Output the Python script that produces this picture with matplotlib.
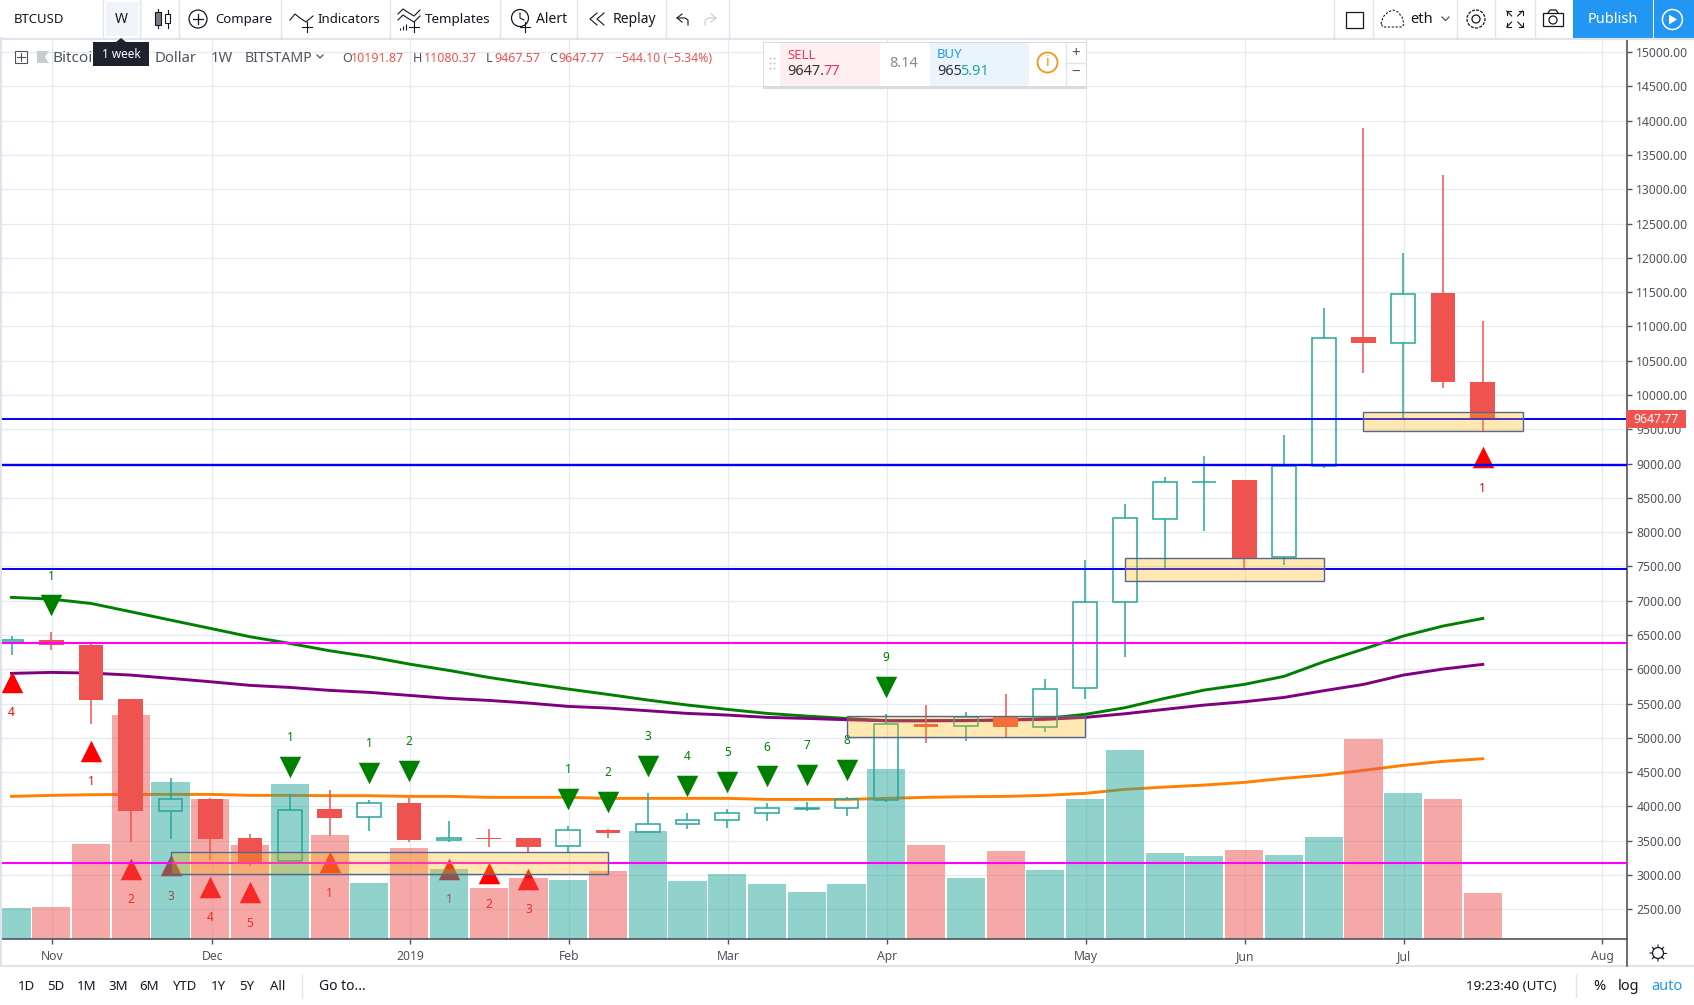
import numpy as np
import matplotlib.pyplot as plt

plt.rcParams['font.family'] = 'Noto Sans'

# open, high, low, close per week
o = [6405, 6427, 6354, 5566, 3938, 4108, 3540, 3200, 3963, 3841, 4050, 3511, 3540, 3540, 3418, 3656, 3622, 3739, 3797, 3899,
     3968, 3972, 4089, 5202, 5168, 5299, 5153, 5722, 6976, 8195, 8730, 8754, 7632, 8970, 10842, 10759, 11484, 10191.87]
h = [6490, 6543, 6388, 5566, 4410, 4128, 3598, 4176, 4240, 4094, 4118, 3788, 3671, 3540, 3715, 3671, 4191, 3899, 3963, 4050,
     4070, 4137, 5348, 5479, 5377, 5639, 5858, 7593, 8404, 8808, 9105, 8754, 9411, 11265, 13893, 12068, 13207, 11080.37]
l = [6215, 6280, 5202, 3481, 3530, 3219, 3136, 3200, 3574, 3642, 3481, 3481, 3413, 3340, 3340, 3540, 3622, 3676, 3690, 3792,
     3938, 3865, 4070, 4930, 4959, 5007, 5090, 5571, 6184, 7471, 8015, 7447, 7525, 8934, 10316, 9645, 10102, 9467.57]
c = [6425, 6358, 5557, 3938, 4103, 3530, 3185, 3943, 3836, 4045, 3511, 3540, 3530, 3413, 3651, 3617, 3739, 3797, 3899, 3972,
     3972, 4103, 5197, 5163, 5299, 5163, 5707, 6976, 8209, 8735, 8735, 7617, 8970, 10837, 10759, 11479, 10190, 9647.77]

# volume pane shares the price scale on the screen
vol = [2519, 2534, 3452, 5333, 4356, 4108, 3438, 4327, 3583, 2884, 3394, 3088, 2811, 2956, 2927, 3059, 3642, 2913, 3015, 2869,
       2752, 2869, 4546, 3438, 2956, 3350, 3073, 4108, 4823, 3321, 3277, 3365, 3292, 3554, 4983, 4196, 4108, 2738]
vol_up = [1, 0, 0, 0, 1, 0, 0, 1, 0, 1, 0, 1, 0, 0, 1, 0, 1, 1, 1, 1, 1, 1, 1, 0, 1, 0, 1, 1, 1, 1, 1, 0, 1, 1, 0, 1, 0, 0]

ma_green = [7049, 7024, 6961, 6840, 6718, 6597, 6475, 6378, 6271, 6184, 6077, 5984, 5882, 5795, 5712, 5634, 5552, 5479, 5416,
            5357, 5318, 5284, 5250, 5250, 5250, 5260, 5284, 5343, 5440, 5576, 5698, 5780, 5897, 6110, 6295, 6485, 6631, 6742]
ma_purple = [5941, 5955, 5945, 5916, 5868, 5819, 5766, 5736, 5693, 5664, 5620, 5576, 5547, 5508, 5459, 5435, 5396, 5357, 5333,
             5299, 5284, 5265, 5250, 5250, 5255, 5260, 5270, 5299, 5352, 5416, 5479, 5527, 5590, 5688, 5780, 5916, 6004, 6072]
ma_orange = [4147, 4162, 4171, 4176, 4176, 4176, 4162, 4162, 4157, 4157, 4147, 4147, 4133, 4133, 4133, 4118, 4118, 4118, 4118,
             4103, 4103, 4103, 4118, 4133, 4142, 4147, 4162, 4191, 4249, 4283, 4312, 4351, 4410, 4458, 4526, 4599, 4658, 4696]

# week, triangle centre, number height, number
red_marks = [(0, 5819, 5367, '4'), (2, 4813, 4361, '1'), (3, 3093, 2645, '2'), (4, 3141, 2684, '3'), (5, 2830, 2378, '4'),
             (6, 2748, 2295, '5'), (8, 3185, 2728, '1'), (11, 3093, 2645, '1'), (12, 3025, 2572, '2'), (13, 2947, 2499, '3'),
             (37, 9100, 8642, '1')]
green_marks = [(1, 6932, 7359, '1'), (7, 4570, 5002, '1'), (9, 4483, 4915, '1'), (10, 4512, 4944, '2'), (14, 4103, 4536, '1'),
               (15, 4060, 4492, '2'), (16, 4585, 5017, '3'), (17, 4293, 4725, '4'), (18, 4351, 4783, '5'), (19, 4439, 4866, '6'),
               (20, 4453, 4885, '7'), (21, 4526, 4958, '8'), (22, 5736, 6173, '9')]

# left week, right week, bottom, top
boxes = [(4, 15, 3010, 3340), (21, 27, 5007, 5314), (28, 33, 7282, 7617), (34, 38, 9480, 9757)]

up_col = '#26a69a'
down_col = '#ef5350'
grid_col = '#e3ebf1'
line_col = '#e0e3eb'
txt_col = '#50535e'

x = np.arange(38)

plt.figure(figsize=(16.94, 10.05), dpi=100)
plt.axes([2/1694, 1 - 939/1005, 1624.7/1694, 900.5/1005])

plt.grid(color=grid_col, lw=0.9, zorder=0)
plt.gca().set_axisbelow(True)

plt.plot(x, ma_orange, color='#ff7f00', lw=2.1, zorder=1)
plt.plot(x, ma_green, color='#008000', lw=2.1, zorder=1)
plt.plot(x, ma_purple, color='#800080', lw=2.1, zorder=1)

for m in red_marks:
    plt.scatter(m[0], m[1], marker='^', s=240, color='#ff0000', linewidths=0, zorder=1)
    plt.text(m[0], m[2], m[3], color='#ff0000', fontsize=8.5, ha='center', va='center', zorder=1)
for m in green_marks:
    plt.scatter(m[0], m[1], marker='v', s=240, color='#008000', linewidths=0, zorder=1)
    plt.text(m[0], m[2], m[3], color='#008000', fontsize=8.5, ha='center', va='center', zorder=1)

plt.bar(x, vol, width=0.96, color=[up_col if u else down_col for u in vol_up], alpha=0.5, zorder=2)

# hollow up candles, solid down candles
for i in x:
    top = max(o[i], c[i])
    bot = min(o[i], c[i])
    if c[i] >= o[i]:
        plt.vlines(i, top, h[i], color=up_col, lw=1.1, zorder=3)
        plt.vlines(i, l[i], bot, color=up_col, lw=1.1, zorder=3)
        plt.bar(i, top - bot, bottom=bot, width=0.6, facecolor='none', edgecolor=up_col, lw=1.1, zorder=3)
    else:
        plt.vlines(i, l[i], h[i], color=down_col, lw=1.1, zorder=3)
        plt.bar(i, top - bot, bottom=bot, width=0.62, color=down_col, lw=0, zorder=3)

plt.axhline(3175, color='#ff00ff', lw=1.5, zorder=4)
plt.axhline(6383, color='#ff00ff', lw=1.5, zorder=4)
plt.axhline(7462, color='#0000ff', lw=1.4, zorder=4)
plt.axhline(8973, color='#0000ff', lw=1.7, zorder=4)
plt.axhline(9645, color='#0000ff', lw=1.4, zorder=4)

for b in boxes:
    plt.gca().add_patch(plt.Rectangle((b[0], b[2]), b[1] - b[0], b[3] - b[2], facecolor='#ffb300', alpha=0.3, lw=0, zorder=5))
    plt.gca().add_patch(plt.Rectangle((b[0], b[2]), b[1] - b[0], b[3] - b[2], facecolor='none', edgecolor='#56678f', lw=1, zorder=5))

plt.xlim(-0.239, 40.62)
plt.ylim(2067, 15200)
plt.xticks([1.03, 5.05, 10.03, 14.03, 18.03, 22.03, 27.03, 31.03, 35.03, 40.0],
           ['Nov', 'Dec', '2019', 'Feb', 'Mar', 'Apr', 'May', 'Jun', 'Jul', 'Aug'])
plt.yticks(np.arange(2500, 15001, 500), ['%.2f' % v for v in np.arange(2500, 15001, 500)])
plt.gca().yaxis.tick_right()
plt.tick_params(axis='both', length=3.5, width=1, color=txt_col, labelcolor=txt_col, labelsize=8.8)
plt.tick_params(axis='y', pad=3.5)
plt.tick_params(axis='x', pad=4.5)
plt.gca().spines['top'].set_visible(False)
plt.gca().spines['left'].set_visible(False)
plt.gca().spines['right'].set_color(txt_col)
plt.gca().spines['bottom'].set_color(txt_col)
plt.gca().spines['right'].set_linewidth(1.2)
plt.gca().spines['bottom'].set_linewidth(1.2)

# screen furniture, in pixels of the picture
plt.axes([0, 0, 1, 1], facecolor='none')
plt.axis('off')
plt.xlim(0, 1694)
plt.ylim(1005, 0)
ax = plt.gca()

plt.plot([0, 1694], [38.5, 38.5], color=line_col, lw=1.5)
plt.plot([0, 1694], [966, 966], color=line_col, lw=1.5)
plt.plot([1, 1], [38, 966], color=line_col, lw=1.5)
plt.plot([1626.7, 1626.7], [939, 966], color=txt_col, lw=1.2)
for sx in [103, 140, 179, 281, 390, 500, 577, 666, 729, 1334, 1373, 1457, 1495, 1535]:
    plt.plot([sx, sx], [0, 38], color=line_col, lw=1)
plt.plot([302, 302], [975, 997], color=line_col, lw=1)
plt.plot([1576, 1576], [975, 997], color=line_col, lw=1)

# price tag
ax.add_patch(plt.Rectangle((1626, 410), 60, 18, color=down_col, lw=0))
plt.text(1656, 419, '9647.77', color='white', fontsize=8.8, ha='center', va='center')

# left part of the toolbar
ax.add_patch(plt.Rectangle((106, 2), 32, 34, color='#f0f3fa', lw=0))
plt.text(14, 19, 'BTCUSD', color='#131722', fontsize=9.5, fontweight='bold', va='center')
plt.text(121, 19, 'W', color='#131722', fontsize=10, ha='center', va='center')
plt.text(215, 19, 'Compare', color='#131722', fontsize=9.5, va='center')
plt.text(317, 19, 'Indicators', color='#131722', fontsize=9.5, va='center')
plt.text(425, 19, 'Templates', color='#131722', fontsize=9.7, va='center')
plt.text(536, 19, 'Alert', color='#131722', fontsize=10, va='center')
plt.text(613, 19, 'Replay', color='#131722', fontsize=10, va='center')

# candle icon
ax.add_patch(plt.Rectangle((155, 12), 6, 13, facecolor='#787b86', edgecolor='#131722', lw=0.8))
ax.add_patch(plt.Rectangle((165, 14), 5, 9, facecolor='white', edgecolor='#131722', lw=0.8))
plt.plot([158, 158], [9, 28], color='#131722', lw=0.8, zorder=0)
plt.plot([167.5, 167.5], [10, 28], color='#131722', lw=0.8, zorder=0)
# compare icon
ax.add_patch(plt.Circle((198, 19), 9, facecolor='none', edgecolor='#131722', lw=0.9))
plt.plot([193, 203], [19, 19], color='#131722', lw=0.9)
plt.plot([198, 198], [14, 24], color='#131722', lw=0.9)
# indicators icon
plt.plot([290, 295, 300, 306, 313], [20, 14, 18, 22, 16], color='#131722', lw=0.8)
plt.plot([302, 312], [27, 27], color='#131722', lw=0.8)
plt.plot([307, 307], [22, 32], color='#131722', lw=0.8)
# templates icon
plt.plot([398, 403, 409, 414, 420], [14, 9, 13, 16, 10], color='#131722', lw=0.8)
plt.plot([398, 403, 409, 414, 420], [20, 15, 19, 22, 16], color='#131722', lw=0.8)
plt.vlines([400, 403, 406], [28, 26, 24], [30, 30, 30], color='#131722', lw=0.8)
plt.plot([409, 419], [27, 27], color='#131722', lw=0.8)
plt.plot([414, 414], [22, 32], color='#131722', lw=0.8)
# alert icon
ax.add_patch(plt.Circle((520, 18), 8.5, facecolor='none', edgecolor='#131722', lw=0.9))
plt.plot([520, 520, 524], [13, 18, 20], color='#131722', lw=0.8)
plt.plot([520, 530], [27, 27], color='#131722', lw=0.8, zorder=3)
plt.plot([525, 525], [22, 32], color='#131722', lw=0.8, zorder=3)
# replay icon
plt.plot([597, 590, 597], [13, 19, 25], color='#131722', lw=0.8)
plt.plot([604, 597, 604], [13, 19, 25], color='#131722', lw=0.8)
# undo, redo
plt.plot([682, 677, 682], [14, 18, 22], color='#131722', lw=0.8)
plt.plot([677, 685, 688, 688], [18, 18, 20, 25], color='#131722', lw=0.8)
plt.plot([711, 716, 711], [14, 18, 22], color='#c8cad0', lw=0.8)
plt.plot([716, 708, 705, 705], [18, 18, 20, 25], color='#c8cad0', lw=0.8)

# legend row
ax.add_patch(plt.Rectangle((15, 51), 12, 12, facecolor='white', edgecolor='#50535e', lw=0.8))
plt.plot([17, 25], [57, 57], color='#50535e', lw=0.8)
plt.plot([21, 21], [53, 61], color='#50535e', lw=0.8)
plt.fill([37, 49, 45, 49, 37], [51, 51, 57, 63, 63], color='#c8ccd2', lw=0)
plt.text(53, 58, 'Bitcoi', color=txt_col, fontsize=11, va='center')
plt.text(155, 58, 'Dollar', color=txt_col, fontsize=10.7, va='center')
plt.text(211, 58, '1W', color=txt_col, fontsize=10.7, va='center')
plt.text(245, 58, 'BITSTAMP', color=txt_col, fontsize=10.2, va='center')
plt.plot([317, 320, 323], [55, 58, 55], color=txt_col, lw=0.9)
plt.text(342, 58, 'O', color=txt_col, fontsize=9, va='center')
plt.text(351, 58, '10191.87', color=down_col, fontsize=9, va='center')
plt.text(413, 58, 'H', color=txt_col, fontsize=9, va='center')
plt.text(424, 58, '11080.37', color=down_col, fontsize=9, va='center')
plt.text(486, 58, 'L', color=txt_col, fontsize=9, va='center')
plt.text(494, 58, '9467.57', color=down_col, fontsize=9, va='center')
plt.text(549, 58, 'C', color=txt_col, fontsize=9, va='center')
plt.text(558, 58, '9647.77', color=down_col, fontsize=9, va='center')
plt.text(615, 58, '\u2212544.10 (\u22125.34%)', color=down_col, fontsize=8.8, va='center')

# tooltip
ax.add_patch(plt.Rectangle((93, 42), 56, 24, color='#1e222d', lw=0, zorder=6))
plt.fill([116, 121, 126], [42, 38, 42], color='#1e222d', lw=0, zorder=6)
plt.text(121, 54, '1 week', color='white', fontsize=8.5, ha='center', va='center', zorder=7)

# buy and sell widget
ax.add_patch(plt.Rectangle((763, 42), 324, 46.5, color='#d8dade', lw=0))
ax.add_patch(plt.Rectangle((764, 43), 322, 43, color='white', lw=0))
ax.add_patch(plt.Rectangle((779.5, 43), 100, 43, color='#fdeef0', lw=0))
ax.add_patch(plt.Rectangle((929.7, 43), 99.5, 43, color='#eaf4fd', lw=0))
plt.plot([1066, 1066], [43, 86], color=line_col, lw=1)
plt.plot([1066, 1086], [63, 63], color=line_col, lw=1)
plt.scatter([770, 774, 770, 774, 770, 774], [58, 58, 63, 63, 68, 68], s=2, color='#c0c3ca', linewidths=0)
plt.text(787, 55, 'SELL', color='#f2385a', fontsize=9.5, va='center')
plt.text(787, 71, '9647.', color='#333333', fontsize=10.5, va='center')
plt.text(823, 71, '77', color='#f2385a', fontsize=10.5, va='center')
plt.text(904, 63, '8.14', color='#868993', fontsize=10.5, ha='center', va='center')
plt.text(937, 54, 'BUY', color='#2196f3', fontsize=9.5, va='center')
plt.text(937, 71, '965', color='#333333', fontsize=10.5, va='center')
plt.text(960, 71, '5.91', color='#26a69a', fontsize=10.5, va='center')
ax.add_patch(plt.Circle((1047.5, 62.5), 10, facecolor='none', edgecolor='#f7931e', lw=1.3))
plt.text(1047.5, 62.5, 'i', color='#f7931e', fontsize=10.5, ha='center', va='center')
plt.text(1076, 53.5, '+', color='#50535e', fontsize=11, fontweight='bold', ha='center', va='center')
plt.text(1076, 72.5, '\u2212', color='#50535e', fontsize=11, fontweight='bold', ha='center', va='center')

# right part of the toolbar
ax.add_patch(plt.Rectangle((1346, 12), 17, 16, facecolor='none', edgecolor='#131722', lw=0.9))
plt.plot([1381, 1383, 1388, 1393, 1398, 1402, 1404, 1402, 1383, 1381], [24, 17, 12, 10, 12, 17, 24, 27, 27, 24],
         color='#131722', lw=0.8, ls=(0, (2, 1.5)))
plt.text(1410, 19, 'eth', color='#131722', fontsize=10.5, va='center')
plt.plot([1442, 1445.5, 1449], [17, 20.5, 17], color='#50535e', lw=0.9)
ax.add_patch(plt.Circle((1476, 19), 4, facecolor='none', edgecolor='#131722', lw=0.9))
ax.add_patch(plt.Circle((1476, 19), 9, facecolor='none', edgecolor='#131722', lw=0.9, ls=(0, (2.5, 1))))
for sx, sy in [(-1, -1), (1, -1), (-1, 1), (1, 1)]:
    plt.plot([1514.7 + 3*sx, 1514.7 + 8*sx], [19 + 3*sy, 19 + 8*sy], color='#131722', lw=0.8)
    plt.plot([1514.7 + 4*sx, 1514.7 + 8*sx, 1514.7 + 8*sx], [19 + 8*sy, 19 + 8*sy, 19 + 4*sy], color='#131722', lw=0.8)
ax.add_patch(plt.Rectangle((1543, 13), 20, 13, facecolor='none', edgecolor='#131722', lw=0.9))
plt.plot([1548, 1550, 1556, 1558], [13, 10, 10, 13], color='#131722', lw=0.9)
ax.add_patch(plt.Circle((1553, 20), 4, facecolor='none', edgecolor='#131722', lw=0.9))
ax.add_patch(plt.Rectangle((1573, 0), 80, 38, color='#2196f3', lw=0))
ax.add_patch(plt.Rectangle((1654, 0), 40, 38, color='#2196f3', lw=0))
plt.text(1612.6, 19, 'Publish', color='white', fontsize=10.5, ha='center', va='center')
ax.add_patch(plt.Circle((1672.4, 19.5), 10, facecolor='none', edgecolor='white', lw=1.1))
plt.fill([1669, 1669, 1677], [14.5, 24.5, 19.5], color='white', lw=0)

# bottom row
for lab, lx in zip(['1D', '5D', '1M', '3M', '6M', 'YTD', '1Y', '5Y', 'All'], [26, 56, 87, 118, 149, 184, 218, 247, 277.5]):
    plt.text(lx, 986, lab, color='#131722', fontsize=9.5, ha='center', va='center')
plt.text(319, 986, 'Go to...', color='#131722', fontsize=10, va='center')
plt.text(1511, 986, '19:23:40 (UTC)', color='#131722', fontsize=9.7, ha='center', va='center')
plt.text(1599, 986, '%', color='#131722', fontsize=10.5, ha='center', va='center')
plt.text(1629, 986, 'log', color='#131722', fontsize=10.5, ha='center', va='center')
plt.text(1667, 986, 'auto', color='#2196f3', fontsize=10.5, ha='center', va='center')
ax.add_patch(plt.Circle((1658, 953), 5.5, facecolor='none', edgecolor='#131722', lw=0.9))
for a in np.arange(0, 6.28, 0.785):
    plt.plot([1658 + 5.5*np.cos(a), 1658 + 8*np.cos(a)], [953 + 5.5*np.sin(a), 953 + 8*np.sin(a)], color='#131722', lw=0.8)

plt.xlim(0, 1694)
plt.ylim(1005, 0)

plt.savefig('out.png', dpi=100)
